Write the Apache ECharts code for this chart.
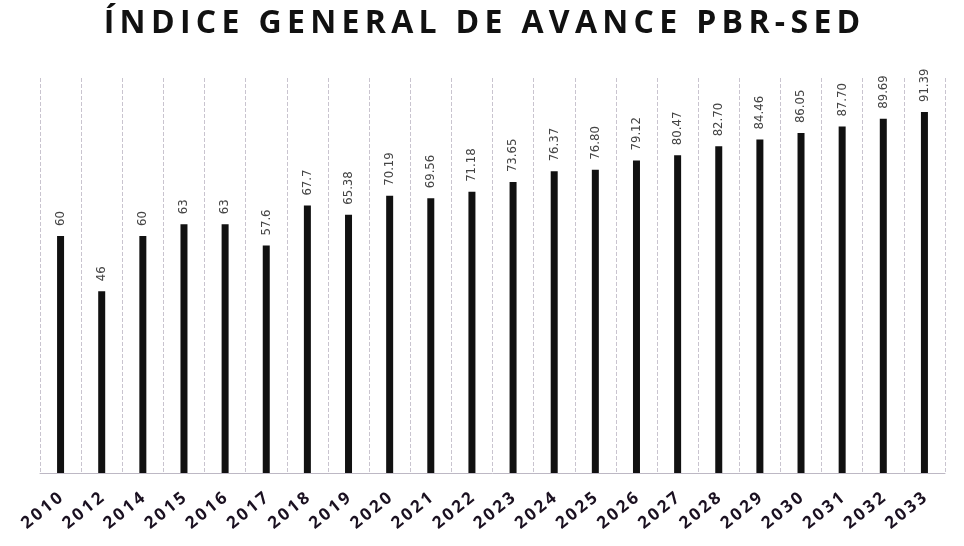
<!DOCTYPE html>
<html>
<head>
<meta charset="utf-8">
<script src="https://cdn.jsdelivr.net/npm/echarts@6/dist/echarts.min.js"></script>
<style>
  html, body { margin: 0; padding: 0; background: #fff; }
  #chart { width: 964px; height: 546px; }
</style>
</head>
<body>
<div id="chart"></div>
<script>
// años y valores del índice
let years = ["2010", "2012", "2014", "2015", "2016", "2017", "2018", "2019", "2020", "2021", "2022",
  "2023", "2024", "2025", "2026", "2027", "2028", "2029", "2030", "2031", "2032", "2033"];
let values = [60, 46, 60, 63, 63, 57.6, 67.7, 65.38, 70.19, 69.56, 71.18,
  73.65, 76.37, 76.80, 79.12, 80.47, 82.70, 84.46, 86.05, 87.70, 89.69, 91.39];
// texto tal como aparece en las etiquetas
let labels = ["60", "46", "60", "63", "63", "57.6", "67.7", "65.38", "70.19", "69.56", "71.18",
  "73.65", "76.37", "76.80", "79.12", "80.47", "82.70", "84.46", "86.05", "87.70", "89.69", "91.39"];

let titulo = "ÍNDICE GENERAL DE AVANCE PBR-SED";
// espaciado entre letras (thin space)
function espaciar(s) {
  return s.split("").join("\u2009");
}

let chart = echarts.init(document.getElementById("chart"));
let gridColor = "#c9c4cf";

let option = {
  animation: false,
  title: {
    text: espaciar(titulo),
    left: "center",
    top: 3,
    textStyle: {
      color: "#111",
      fontSize: 32,
      fontWeight: "bold",
      fontFamily: "Open Sans",
    },
  },
  grid: {
    left: 40,
    right: 19,
    top: 78,
    bottom: 73,
  },
  xAxis: {
    type: "category",
    data: years,
    axisTick: { show: false },
    axisLine: {
      lineStyle: { color: "#bdb8c4", width: 1 },
    },
    splitLine: {
      show: true,
      interval: 0,
      lineStyle: { color: gridColor, type: "dashed", width: 1 },
    },
    axisLabel: {
      interval: 0,
      rotate: 39,
      margin: 23,
      color: "#1a1020",
      fontSize: 17,
      fontWeight: "bold",
      fontFamily: "Open Sans",
      formatter: (v) => espaciar(v),
    },
  },
  yAxis: {
    type: "value",
    min: 0,
    max: 100,
    show: false,
    splitLine: { show: false },
  },
  series: [
    {
      type: "bar",
      data: values,
      barWidth: 7,
      itemStyle: { color: "#111" },
      label: {
        show: true,
        position: "top",
        rotate: 90,
        align: "left",
        verticalAlign: "middle",
        distance: 10,
        color: "#444",
        fontSize: 13,
        fontFamily: "Liberation Sans Narrow, DejaVu Sans Condensed, sans-serif",
        formatter: (p) => labels[p.dataIndex],
      },
    },
  ],
};

chart.setOption(option);
</script>
</body>
</html>
